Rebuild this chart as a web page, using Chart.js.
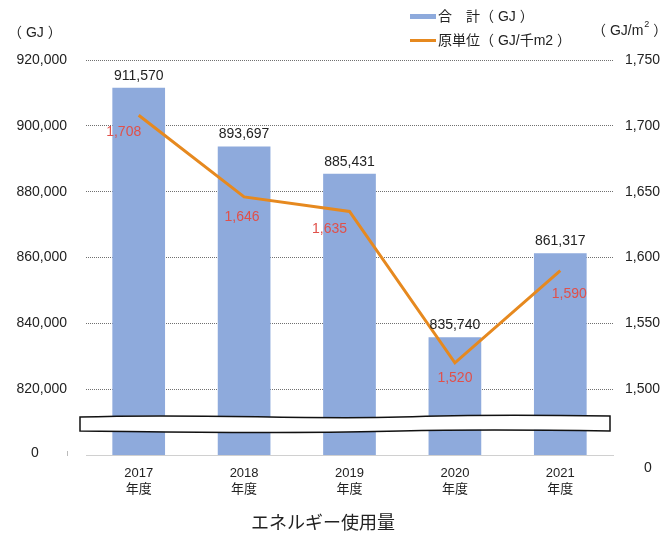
<!DOCTYPE html>
<html lang="ja">
<head>
<meta charset="UTF-8">
<title>エネルギー使用量</title>
<script src="https://cdn.jsdelivr.net/npm/chart.js@4.4.1/dist/chart.umd.min.js"></script>
<style>
  body { margin: 0; background: #ffffff; }
  .chart-container { position: relative; width: 671px; height: 533px; }
</style>
</head>
<body>
<div class="chart-container">
  <canvas id="energyChart"></canvas>
</div>
<script>
// --- データ ---
const years = ['2017', '2018', '2019', '2020', '2021'];
const totalGJ = [911570, 893697, 885431, 835740, 861317];
const intensity = [1708, 1646, 1635, 1520, 1590];
const leftTicks = [820000, 840000, 860000, 880000, 900000, 920000];
const rightTicks = [1500, 1550, 1600, 1650, 1700, 1750];

const FONT = "'Liberation Sans', 'Noto Sans CJK JP', sans-serif";
const BAR_COLOR = '#8eaadc';
const LINE_COLOR = '#e6891f';
const RED = '#e0504a';

// 原単位ラベルの位置ずらし (点からの px)
const lineLabelOffsets = [[-15, 17], [-2, 20], [-20, 18], [0, 15], [9, 23]];

const fmt = v => v.toLocaleString('en-US');

const decor = {
  id: 'decor',
  afterDatasetsDraw(chart) {
    const ctx = chart.ctx;
    const area = chart.chartArea;

    // 省略の波線バンド
    const l = area.left - 6, r = area.right - 3;
    const t = area.bottom - 38, b = area.bottom - 24;
    ctx.save();
    ctx.beginPath();
    ctx.moveTo(l, t);
    ctx.bezierCurveTo(l + 120, t - 4, l + 220, t + 3, l + 320, t);
    ctx.bezierCurveTo(l + 400, t - 3, l + 470, t - 2, r, t - 1);
    ctx.lineTo(r, b);
    ctx.bezierCurveTo(l + 470, b - 1, l + 400, b - 2, l + 320, b);
    ctx.bezierCurveTo(l + 220, b + 3, l + 120, b + 1, l, b);
    ctx.closePath();
    ctx.fillStyle = '#ffffff';
    ctx.fill();
    ctx.strokeStyle = '#111111';
    ctx.lineWidth = 1.5;
    ctx.stroke();

    // 棒グラフの値 (dataset 1)
    ctx.font = '14px ' + FONT;
    ctx.fillStyle = '#222222';
    ctx.textAlign = 'center';
    ctx.textBaseline = 'bottom';
    chart.getDatasetMeta(1).data.forEach((bar, i) => {
      ctx.fillText(fmt(totalGJ[i]), bar.x, bar.y - 5);
    });

    // 原単位の値 (dataset 0)
    ctx.fillStyle = RED;
    ctx.textBaseline = 'middle';
    chart.getDatasetMeta(0).data.forEach((pt, i) => {
      const o = lineLabelOffsets[i];
      ctx.fillText(fmt(intensity[i]), pt.x + o[0], pt.y + o[1]);
    });
    ctx.restore();
  },
  afterDraw(chart) {
    const ctx = chart.ctx;
    const area = chart.chartArea;
    ctx.save();
    ctx.fillStyle = '#222222';
    ctx.textBaseline = 'middle';

    // 軸の単位
    ctx.font = '14px ' + FONT;
    ctx.textAlign = 'left';
    ctx.fillText('（ GJ ）', 8, 33);
    ctx.fillText('（ GJ/m', 592, 31);
    const w = ctx.measureText('（ GJ/m').width;
    ctx.font = '9px ' + FONT;
    ctx.fillText('2', 592 + w + 1, 25);
    ctx.font = '14px ' + FONT;
    ctx.fillText(' ）', 592 + w + 6, 31);

    // 0 ラベル
    ctx.textAlign = 'center';
    ctx.fillText('0', 35, area.bottom - 2);
    ctx.fillText('0', 648, area.bottom + 13);
    ctx.fillStyle = '#bbbbbb';
    ctx.fillRect(67, area.bottom - 4, 1, 5);

    // 凡例
    ctx.fillStyle = BAR_COLOR;
    ctx.fillRect(410, 14, 26, 5);
    ctx.fillStyle = LINE_COLOR;
    ctx.fillRect(410, 39, 26, 3);
    ctx.fillStyle = '#222222';
    ctx.textAlign = 'left';
    ctx.font = '14px ' + FONT;
    ctx.fillText('合　計（ GJ ）', 438, 17);
    ctx.fillText('原単位（ GJ/千m2 ）', 438, 41);

    // タイトル
    ctx.textAlign = 'center';
    ctx.font = '18px ' + FONT;
    ctx.fillText('エネルギー使用量', 323, 524);
    ctx.restore();
  }
};

const ctx = document.getElementById('energyChart').getContext('2d');
new Chart(ctx, {
  type: 'bar',
  data: {
    labels: years,
    datasets: [
      {
        type: 'line',
        label: '原単位（GJ/千m2）',
        data: intensity,
        yAxisID: 'y1',
        borderColor: LINE_COLOR,
        borderWidth: 3,
        pointRadius: 0,
        tension: 0,
        order: 0
      },
      {
        type: 'bar',
        label: '合計（GJ）',
        data: totalGJ,
        yAxisID: 'y',
        backgroundColor: BAR_COLOR,
        barPercentage: 0.5,
        categoryPercentage: 1.0,
        order: 1
      }
    ]
  },
  options: {
    responsive: true,
    maintainAspectRatio: false,
    animation: false,
    layout: { padding: { top: 60, left: 0, right: 0, bottom: 0 } },
    plugins: {
      legend: { display: false },
      tooltip: { enabled: false }
    },
    scales: {
      x: {
        grid: { display: false },
        border: { display: true, color: '#d0d0d0', width: 1 },
        ticks: {
          color: '#222222',
          font: { family: FONT, size: 13, lineHeight: 1.25 },
          padding: 2,
          maxRotation: 0,
          callback: function (v, i) { return [years[i], '年度']; }
        },
        afterFit: s => { s.height = 78; }
      },
      y: {
        position: 'left',
        min: 800000,
        max: 920000,
        afterBuildTicks: s => { s.ticks = [800000].concat(leftTicks).map(v => ({ value: v })); },
        grid: {
          drawTicks: false,
          color: c => c.tick.value === 800000 ? 'rgba(0,0,0,0)' : '#707070',
          lineWidth: 1
        },
        border: { display: false, dash: [1, 1] },
        ticks: {
          color: '#222222',
          font: { family: FONT, size: 14 },
          padding: 19,
          callback: v => v === 800000 ? '' : fmt(v)
        },
        afterFit: s => { s.width = 86; }
      },
      y1: {
        position: 'right',
        min: 1450,
        max: 1750,
        afterBuildTicks: s => { s.ticks = rightTicks.map(v => ({ value: v })); },
        grid: { display: false },
        border: { display: false },
        ticks: {
          color: '#222222',
          font: { family: FONT, size: 14 },
          padding: 4,
          callback: v => fmt(v)
        },
        afterFit: s => { s.width = 58; }
      }
    }
  },
  plugins: [decor]
});
</script>
</body>
</html>
